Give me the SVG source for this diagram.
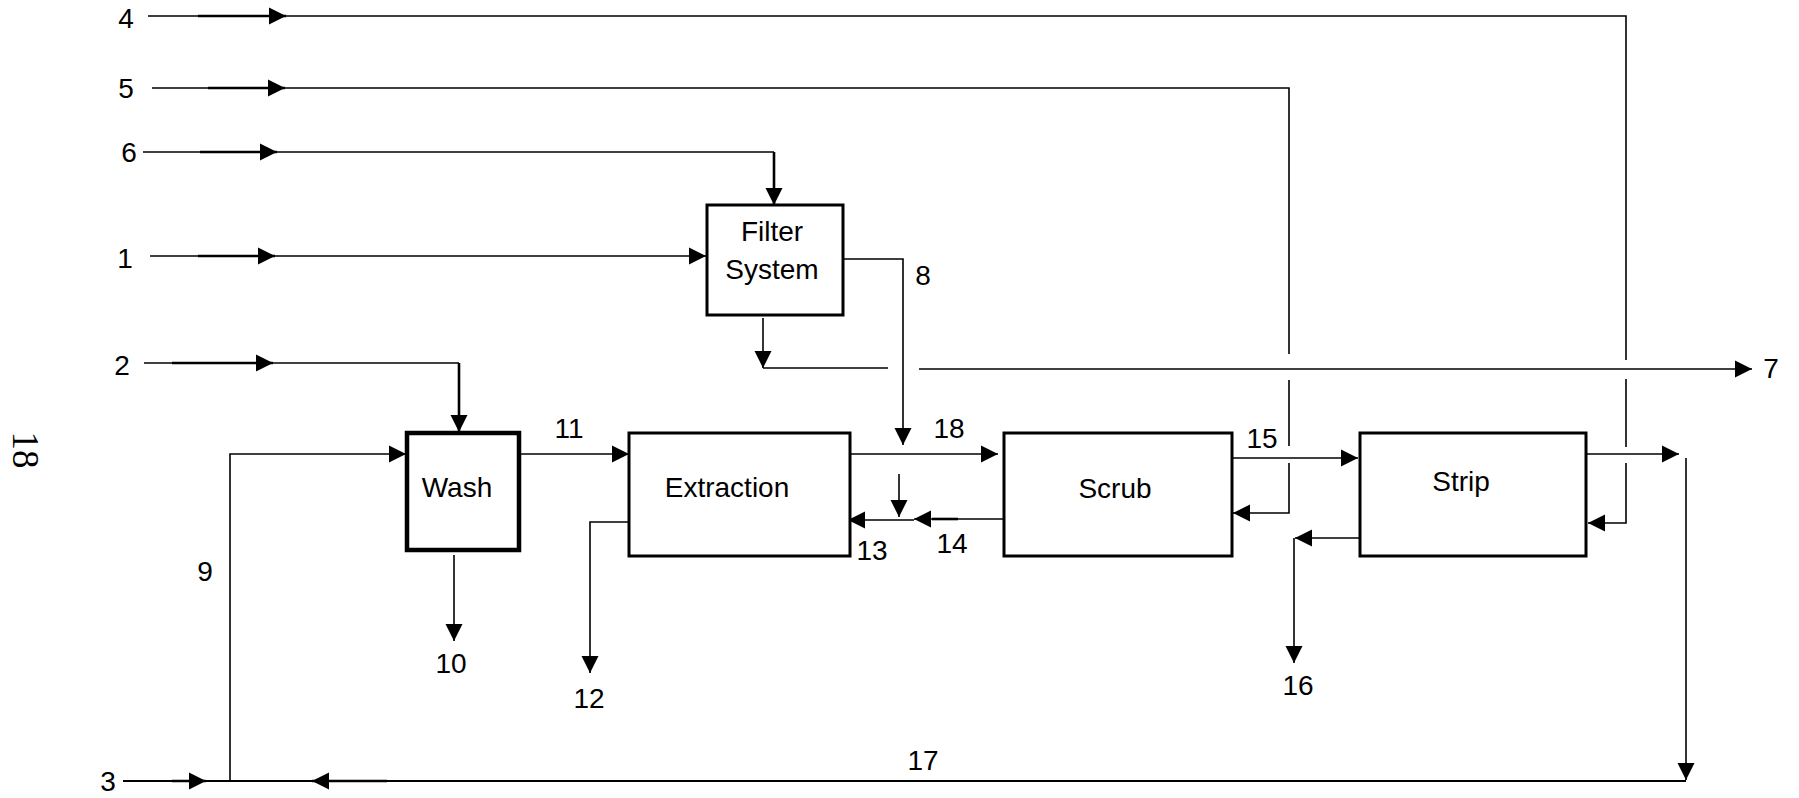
<svg xmlns="http://www.w3.org/2000/svg" width="1799" height="798" viewBox="0 0 1799 798">
<style>
.ln{stroke:#000;stroke-width:1.6;fill:none}
.tk{stroke:#000;stroke-width:2.6;fill:none}
.bt{stroke:#000;stroke-width:2.2;fill:none}
.box{fill:#fff;stroke:#000;stroke-width:3}
.lbl{font-family:"Liberation Sans",Arial,sans-serif;font-size:28px;fill:#000;text-anchor:middle}
</style>
<defs>
<marker id="ah" markerUnits="userSpaceOnUse" markerWidth="18" markerHeight="18" viewBox="0 0 18 18" refX="17" refY="9" orient="auto">
<path d="M0,0.5 L17,9 L0,17.5 z" fill="#000"/>
</marker>
</defs>
<rect width="1799" height="798" fill="#fff"/>

<g id="connectors">
<!-- stream 4 -->
<path class="ln" d="M148,16 H1626 V360 M1626,379 V447 M1626,463 V523 H1588" marker-end="url(#ah)"/>
<path class="tk" d="M198,16 H286" marker-end="url(#ah)"/>
<!-- stream 5 -->
<path class="ln" d="M152,88 H1289 V354 M1289,380 V446 M1289,463 V513 H1233" marker-end="url(#ah)"/>
<path class="tk" d="M208,88 H285" marker-end="url(#ah)"/>
<!-- stream 6 -->
<path class="ln" d="M143,152 H774"/>
<path class="tk" d="M774,152 V205" marker-end="url(#ah)"/>
<path class="tk" d="M200,152 H277" marker-end="url(#ah)"/>
<!-- stream 1 -->
<path class="ln" d="M150,256 H706" marker-end="url(#ah)"/>
<path class="tk" d="M198,256 H275" marker-end="url(#ah)"/>
<!-- stream 2 -->
<path class="ln" d="M144,363 H459"/>
<path class="tk" d="M459,363 V432" marker-end="url(#ah)"/>
<path class="tk" d="M172,363 H273" marker-end="url(#ah)"/>
<!-- stream 8 -->
<path class="ln" d="M843,259 H903 V445" marker-end="url(#ah)"/>
<!-- filter bottom to 7 -->
<path class="ln" d="M763,318 V368" marker-end="url(#ah)"/>
<path class="ln" d="M763,368 H888"/>
<path class="ln" d="M919,369 H1752" marker-end="url(#ah)"/>
<!-- stream 11 -->
<path class="ln" d="M519,454 H629" marker-end="url(#ah)"/>
<!-- stream 9 -->
<path class="ln" d="M230,781 V454 H406" marker-end="url(#ah)"/>
<!-- stream 10 -->
<path class="ln" d="M454,555 V641" marker-end="url(#ah)"/>
<!-- stream 12 -->
<path class="ln" d="M629,522 H590 V673" marker-end="url(#ah)"/>
<!-- stream 18 -->
<path class="ln" d="M850,454 H998" marker-end="url(#ah)"/>
<path class="ln" d="M899,474 V517" marker-end="url(#ah)"/>
<!-- stream 14 / 13 -->
<path class="ln" d="M1004,519 H914" marker-end="url(#ah)"/>
<path class="tk" d="M958,519 H932"/>
<path class="ln" d="M914,520 H848" marker-end="url(#ah)"/>
<!-- stream 15 -->
<path class="ln" d="M1232,458 H1358" marker-end="url(#ah)"/>
<!-- stream 16 -->
<path class="ln" d="M1362,538 H1295" marker-end="url(#ah)"/>
<path class="ln" d="M1294,538 V663" marker-end="url(#ah)"/>
<!-- strip output / 17 -->
<path class="ln" d="M1586,454 H1679" marker-end="url(#ah)"/>
<path class="ln" d="M1686,458 V780" marker-end="url(#ah)"/>
<path class="bt" d="M1686,781 H123"/>
<path class="tk" d="M172,781 H206" marker-end="url(#ah)"/>
<path class="tk" d="M387,781 H312" marker-end="url(#ah)"/>
</g>

<g id="filter">
<rect class="box" x="707" y="205" width="136" height="110"/>
<text class="lbl" x="772" y="241">Filter</text>
<text class="lbl" x="772" y="279">System</text>
</g>
<g id="wash">
<rect class="box" x="407" y="433" width="112" height="117" style="stroke-width:4.5"/>
<text class="lbl" x="457" y="497">Wash</text>
</g>
<g id="extraction">
<rect class="box" x="629" y="433" width="221" height="123"/>
<text class="lbl" x="727" y="497">Extraction</text>
</g>
<g id="scrub">
<rect class="box" x="1004" y="433" width="228" height="123"/>
<text class="lbl" x="1115" y="498">Scrub</text>
</g>
<g id="strip">
<rect class="box" x="1360" y="433" width="226" height="123"/>
<text class="lbl" x="1461" y="491">Strip</text>
</g>

<g id="labels">
<text class="lbl" x="126" y="28">4</text>
<text class="lbl" x="126" y="98">5</text>
<text class="lbl" x="129" y="162">6</text>
<text class="lbl" x="125" y="268">1</text>
<text class="lbl" x="122" y="375">2</text>
<text class="lbl" x="108" y="791">3</text>
<text class="lbl" x="1771" y="378">7</text>
<text class="lbl" x="923" y="285">8</text>
<text class="lbl" x="205" y="581">9</text>
<text class="lbl" x="451" y="673">10</text>
<text class="lbl" x="569" y="438">11</text>
<text class="lbl" x="589" y="708">12</text>
<text class="lbl" x="872" y="560">13</text>
<text class="lbl" x="952" y="553">14</text>
<text class="lbl" x="1262" y="448">15</text>
<text class="lbl" x="1298" y="695">16</text>
<text class="lbl" x="923" y="770">17</text>
<text class="lbl" x="949" y="438">18</text>
<text transform="translate(13,450) rotate(90)" x="0" y="0" style="font-family:'Liberation Serif','Times New Roman',serif;font-size:37px;text-anchor:middle;fill:#000">18</text>
</g>
</svg>
